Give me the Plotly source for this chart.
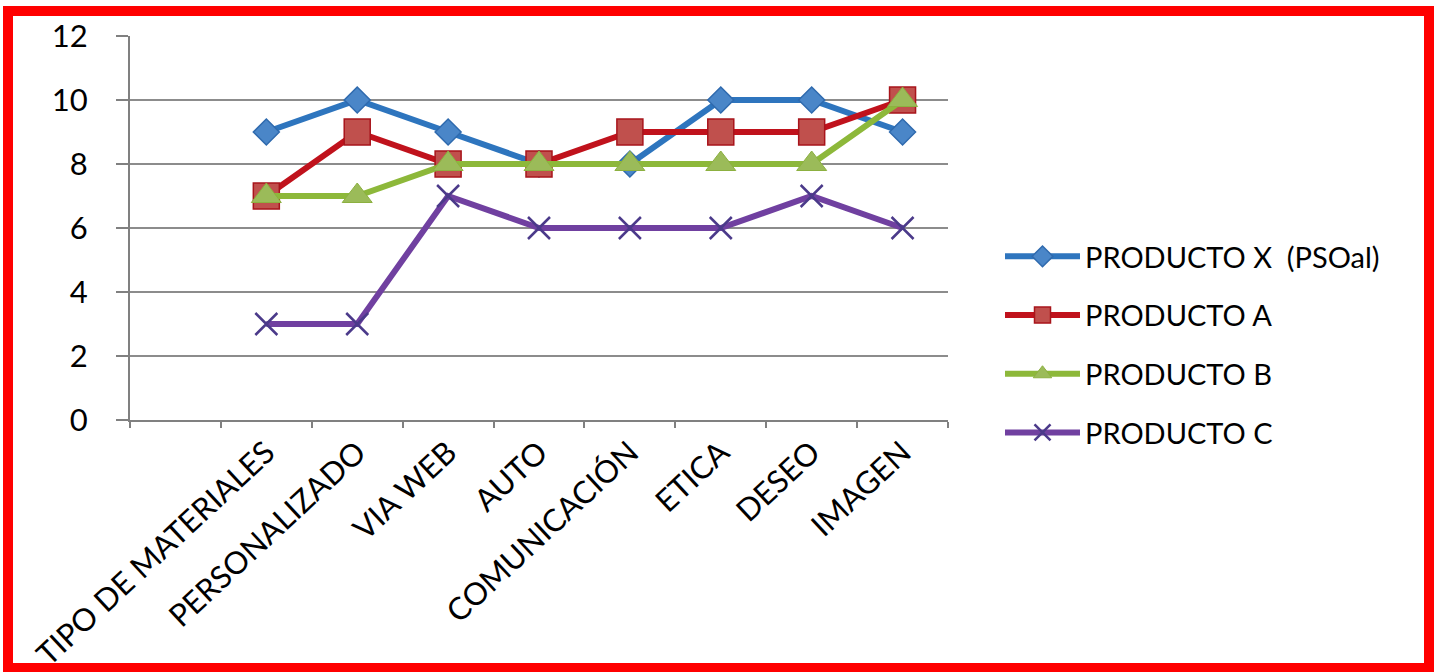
import plotly.graph_objects as go

categories = ["TIPO DE MATERIALES", "PERSONALIZADO", "VIA WEB", "AUTO",
              "COMUNICACIÓN", "ETICA", "DESEO", "IMAGEN"]
axis_categories = [" "] + categories

series_names = ["PRODUCTO X  (PSOal)", "PRODUCTO A", "PRODUCTO B", "PRODUCTO C"]
producto_x = [9, 10, 9, 8, 8, 10, 10, 9]
producto_a = [7, 9, 8, 8, 9, 9, 9, 10]
producto_b = [7, 7, 8, 8, 8, 8, 8, 10]
producto_c = [3, 3, 7, 6, 6, 6, 7, 6]

y_ticks = [0, 2, 4, 6, 8, 10, 12]

W, H = 1437, 672
L, R, T, B = 130, 948, 36, 420

styles = [
    dict(line="#2E75BE", symbol="diamond", size=20, fill="#4A86C8", edge="#2F6AAE", ew=1.5),
    dict(line="#C0121C", symbol="square", size=26, fill="#C0504D", edge="#A8141B", ew=1.5),
    dict(line="#8DB83A", symbol="triangle-up", size=26, fill="#9BBB59", edge="#8CB040", ew=1),
    dict(line="#7040A0", symbol="x-thin", size=22, fill="#4B3A8A", edge="#4B3A8A", ew=2.5),
]

fig = go.Figure()
for name, vals, st in zip(series_names, [producto_x, producto_a, producto_b, producto_c], styles):
    fig.add_trace(go.Scatter(
        x=categories, y=vals, name=name, mode="lines+markers",
        legendgroup=name,
        line=dict(color=st["line"], width=6),
        marker=dict(symbol=st["symbol"], size=st["size"], color=st["fill"],
                    line=dict(color=st["edge"], width=st["ew"])),
    ))

def px_x(p):
    return (p - L) / (R - L)

def px_y(p):
    return (B - p) / (B - T)

fig.add_shape(type="rect", xref="paper", yref="paper",
              x0=px_x(8), x1=px_x(1429), y0=px_y(668), y1=px_y(11),
              line=dict(color="#FF0000", width=10), fillcolor="rgba(0,0,0,0)", layer="above")

fig.update_layout(
    width=W, height=H,
    margin=dict(l=L, r=W - R, t=T, b=H - B, autoexpand=False),
    paper_bgcolor="white", plot_bgcolor="white",
    font=dict(family="Lato, Open Sans, sans-serif", color="black"),
    showlegend=True,
    legend=dict(x=px_x(1000), y=px_y(231), xanchor="left", yanchor="top",
                font=dict(size=29, color="black"), itemwidth=75,
                tracegroupgap=18, bgcolor="rgba(0,0,0,0)"),
    xaxis=dict(type="category", categoryorder="array", categoryarray=axis_categories,
               range=[-0.5, 8.5], tickangle=-43, tickson="boundaries", automargin=False,
               ticks="outside", ticklen=6, tickcolor="#808080", tickwidth=2,
               showline=True, linecolor="#808080", linewidth=2,
               showgrid=False, tickfont=dict(size=31, color="black")),
    yaxis=dict(range=[0, 12], tickvals=y_ticks, ticks="outside", ticklen=12,
               tickcolor="#808080", tickwidth=2, ticklabelstandoff=22, automargin=False,
               showline=True, linecolor="#808080", linewidth=2,
               showgrid=True, gridcolor="#8C8C8C", gridwidth=2,
               zeroline=False, tickfont=dict(size=31, color="black")),
)

fig.write_html("out.html", config={"displayModeBar": False},
               post_script="document.body.style.margin='0';")
